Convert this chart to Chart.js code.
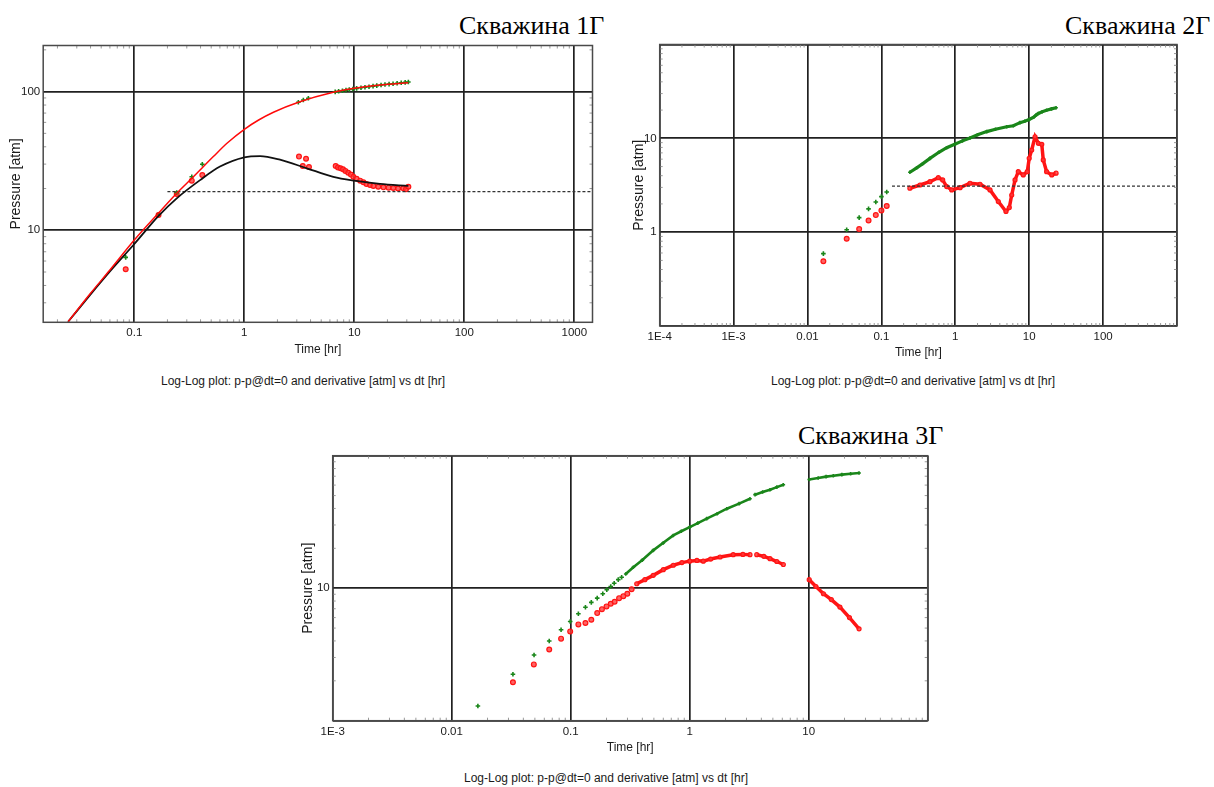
<!DOCTYPE html>
<html>
<head>
<meta charset="utf-8">
<script src="https://cdn.jsdelivr.net/npm/chart.js@4.4.1/dist/chart.umd.min.js"></script>
<style>
  html, body { margin: 0; padding: 0; background: #fff; }
  body { position: relative; width: 1214px; height: 787px; overflow: hidden; font-family: "Liberation Sans", Arial, sans-serif; }
  canvas { position: absolute; }
  .well { position: absolute; font-family: "Liberation Serif", "Times New Roman", serif; font-size: 26px; line-height: 26px; color: #000; white-space: nowrap; }
  .caption { position: absolute; width: 320px; text-align: center; font-size: 12px; line-height: 12px; color: #1a1a1a; white-space: nowrap; }
</style>
</head>
<body>
<div class="well" style="left:459px;top:13px">Скважина 1Г</div>
<div class="well" style="left:1065px;top:13px">Скважина 2Г</div>
<div class="well" style="left:798px;top:423px">Скважина 3Г</div>

<canvas id="well1"></canvas>
<canvas id="well2"></canvas>
<canvas id="well3"></canvas>

<div class="caption" style="left:143px;top:375px">Log-Log plot: p-p@dt=0 and derivative [atm] vs dt [hr]</div>
<div class="caption" style="left:753px;top:375px">Log-Log plot: p-p@dt=0 and derivative [atm] vs dt [hr]</div>
<div class="caption" style="left:446px;top:772px">Log-Log plot: p-p@dt=0 and derivative [atm] vs dt [hr]</div>

<script>
// ---- Скважина 1Г ----
var w1ModelTime = [0.025, 0.04, 0.06, 0.1, 0.166, 0.243, 0.344, 0.523, 0.7, 1.0, 1.35, 1.84, 3.2, 6.44, 10, 17.1, 31];
var w1ModelP = [2.19, 3.51, 5.17, 8.5, 13.3, 18.5, 24.3, 34.0, 42.6, 53.5, 62.4, 71.0, 84.5, 98.9, 105.7, 111.7, 115.9];
var w1ModelDerTime = [0.025, 0.04, 0.06, 0.1, 0.166, 0.243, 0.396, 0.601, 1.0, 1.39, 2.11, 3.69, 6.44, 10, 17.1, 31];
var w1ModelDer = [2.19, 3.45, 5.05, 7.96, 12.7, 17.0, 23.0, 28.8, 33.6, 34.3, 32.3, 28.0, 24.3, 22.8, 21.6, 20.9];
var w1PressTime = [0.0835, 0.166, 0.243, 0.333, 0.415, 3.1, 3.44, 3.82, 6.7, 7.2, 7.8, 8.4, 9.0, 9.7, 10.5, 11.5, 12.5, 13.6, 14.8, 16, 17.5, 19, 20.7, 22.5, 24.5, 26.7, 29, 31];
var w1Press = [6.38, 13.0, 18.7, 24.3, 29.9, 83.8, 87.0, 89.5, 99.5, 100.5, 101.5, 102.5, 103.5, 104.5, 105.5, 106.5, 107.5, 108.5, 109.5, 110.5, 111.5, 112.5, 113.3, 114, 115, 115.8, 116.6, 117.3];
var w1DerTime = [0.0835, 0.166, 0.243, 0.333, 0.415, 3.14, 3.4, 3.64, 3.87, 6.77, 7.1, 7.5, 7.9, 8.3, 8.8, 9.3, 9.8, 10.5, 11.3, 12.1, 12.9, 13.9, 14.9, 16.5, 18.4, 20.5, 22.6, 25, 27.9, 29.5, 31];
var w1Der = [5.24, 12.9, 18.3, 22.8, 25.0, 34.0, 29.1, 32.8, 28.6, 29.1, 28.4, 28.0, 27.5, 26.8, 26.0, 25.2, 24.3, 23.5, 22.8, 22.2, 21.6, 21.2, 20.9, 20.6, 20.4, 20.3, 20.2, 20.0, 20.1, 19.8, 20.6];
var w1FlatTime = [0.2, 1463];
var w1FlatLevel = 19;

// ---- Скважина 2Г ----
var w2EarlyTime = [0.0164, 0.0339, 0.05, 0.067, 0.084, 0.1, 0.118];
var w2EarlyPress = [0.59, 1.06, 1.43, 1.77, 2.10, 2.39, 2.68];
var w2EarlyDer = [0.49, 0.85, 1.08, 1.33, 1.52, 1.70, 1.90];
var w2PressTime = [0.243, 0.3, 0.36, 0.454, 0.6, 0.764, 1, 1.25, 1.58, 2.0, 2.66, 3.5, 4.96, 6.1, 7.5, 8.7, 10, 11.5, 12.5, 13.3, 15, 17.2, 20, 23.1];
var w2Press = [4.35, 4.85, 5.35, 6.12, 7.1, 7.94, 8.7, 9.4, 10.1, 10.9, 11.8, 12.5, 13.3, 13.6, 14.7, 15.2, 15.9, 16.8, 17.8, 18.4, 19.2, 19.9, 20.6, 21.2];
var w2DerTime = [0.243, 0.333, 0.454, 0.589, 0.675, 0.764, 0.894, 1.16, 1.58, 2.16, 2.95, 3.82, 4.85, 5.38, 5.8, 6.43, 7.12, 8.32, 9.42, 10, 10.8, 12, 13.3, 14.8, 15.5, 17.2, 20.2, 23.1];
var w2Der = [2.94, 3.18, 3.45, 3.81, 3.6, 3.06, 2.82, 2.98, 3.32, 3.24, 2.82, 2.12, 1.66, 1.83, 2.49, 3.6, 4.41, 4.07, 4.41, 6.12, 7.5, 10.4, 8.85, 8.63, 5.88, 4.41, 4.07, 4.25];
var w2FlatTime = [0.139, 1000];
var w2FlatLevel = 3.1;

// ---- Скважина 3Г ----
var w3EarlyPressTime = [0.0166, 0.0327, 0.0492, 0.066, 0.083, 0.099, 0.116, 0.133, 0.149, 0.167, 0.186, 0.201, 0.217, 0.232, 0.251, 0.268];
var w3EarlyPress = [1.29, 2.24, 3.13, 3.99, 4.86, 5.61, 6.41, 7.19, 7.81, 8.41, 9.08, 9.75, 10.3, 10.9, 11.6, 12.1];
var w3EarlyDerTime = [0.0327, 0.049, 0.066, 0.083, 0.099, 0.116, 0.133, 0.149, 0.167, 0.183, 0.2, 0.217, 0.234, 0.255, 0.277, 0.299, 0.325];
var w3EarlyDer = [1.95, 2.66, 3.45, 4.16, 4.72, 5.33, 5.46, 5.78, 6.49, 6.95, 7.29, 7.64, 7.91, 8.41, 8.71, 9.08, 9.84];
// null marks a gap in the recording
var w3PressTime = [0.29, 0.336, 0.4, 0.494, 0.6, 0.728, 0.85, 1, 1.17, 1.39, 1.7, 2.05, 2.6, 3.21, 3.4, 3.54, 4.1, 4.73, 5.4, 6.12, 8, 10.1, 12, 14, 16.1, 19, 22.5, 26.5];
var w3Press = [12.8, 14.4, 16.3, 19.3, 22.0, 25.0, 26.9, 28.9, 31.0, 33.5, 36.5, 39.8, 43.5, 47.3, null, 50.8, 53.2, 55.4, 57.9, 60.4, null, 66.2, 67.8, 69.5, 70.6, 72.0, 73.1, 74.0];
var w3DerTime = [0.359, 0.42, 0.494, 0.6, 0.728, 0.86, 1, 1.15, 1.3, 1.5, 1.8, 2.32, 2.8, 3.21, 3.4, 3.66, 4.2, 4.73, 5.4, 6.12, 8, 10.1, 11.5, 13.3, 15.5, 18.3, 22, 26.5];
var w3Der = [10.8, 11.6, 12.5, 13.8, 14.9, 15.6, 16.0, 16.2, 16.0, 16.6, 17.2, 17.9, 18.0, 17.9, null, 17.9, 17.4, 16.7, 15.9, 15.1, null, 11.6, 10.3, 9.08, 8.2, 7.2, 6.0, 4.94];

var GREEN = '#1a861a';
var RED = '#ff1414';

function pts(ts, vs) {
    return ts.map(function (t, i) { return { x: t, y: vs[i] }; });
}
function flat(ts, level) {
    return ts.map(function (t) { return { x: t, y: level }; });
}
function isDecade(v) {
    var e = Math.round(Math.log10(v));
    return Math.abs(v / Math.pow(10, e) - 1) < 1e-6;
}
function fmt(v) {
    var e = Math.round(Math.log10(v));
    if (e < -2) return '1E' + e;
    return e < 0 ? Math.pow(10, e).toFixed(-e) : String(Math.pow(10, e));
}
function minorValues(scale) {
    var out = [];
    for (var e = Math.floor(Math.log10(scale.min)); e <= Math.ceil(Math.log10(scale.max)); e++) {
        for (var k = 2; k < 10; k++) {
            var v = k * Math.pow(10, e);
            if (v > scale.min && v < scale.max) out.push(v);
        }
    }
    return out;
}

// frame round the plot plus the small inward minor ticks
var framePlugin = {
    id: 'frame',
    afterDatasetsDraw: function (chart) {
        var a = chart.chartArea, ctx = chart.ctx, sx = chart.scales.x, sy = chart.scales.y;
        ctx.save();
        ctx.strokeStyle = '#9a9a9a';
        ctx.lineWidth = 1;
        ctx.beginPath();
        minorValues(sx).forEach(function (v) {
            var px = sx.getPixelForValue(v);
            ctx.moveTo(px, a.top); ctx.lineTo(px, a.top + 3);
            ctx.moveTo(px, a.bottom); ctx.lineTo(px, a.bottom - 3);
        });
        minorValues(sy).forEach(function (v) {
            var py = sy.getPixelForValue(v);
            ctx.moveTo(a.left, py); ctx.lineTo(a.left + 3, py);
            ctx.moveTo(a.right, py); ctx.lineTo(a.right - 3, py);
        });
        ctx.stroke();
        ctx.strokeStyle = '#4a4a4a';
        ctx.lineWidth = 1.5;
        ctx.strokeRect(a.left, a.top, a.right - a.left, a.bottom - a.top);
        ctx.restore();
    }
};

function gridColor(c) { return c.tick && isDecade(c.tick.value) ? '#202020' : 'rgba(0,0,0,0)'; }

function makeChart(id, rect, xr, yr, titlePad, datasets) {
    var cv = document.getElementById(id);
    var left = Math.floor(rect.l) - 50, top = Math.floor(rect.t) - 10;
    var width = Math.ceil(rect.r) + 12 - left, height = Math.ceil(rect.b) + 46 - top;
    cv.width = width; cv.height = height;
    cv.style.left = left + 'px'; cv.style.top = top + 'px';
    cv.style.width = width + 'px'; cv.style.height = height + 'px';

    return new Chart(cv, {
        type: 'scatter',
        data: { datasets: datasets },
        plugins: [framePlugin],
        options: {
            responsive: false,
            animation: false,
            devicePixelRatio: 1,
            layout: {
                padding: {
                    left: rect.l - 50 - left,
                    top: rect.t - top,
                    right: left + width - rect.r,
                    bottom: top + height - rect.b - 45
                }
            },
            plugins: { legend: { display: false }, tooltip: { enabled: false } },
            elements: { line: { fill: false } },
            scales: {
                x: {
                    type: 'logarithmic', min: xr[0], max: xr[1],
                    afterFit: function (s) { s.height = 45; },
                    grid: { drawTicks: false, color: gridColor, lineWidth: 1.7 },
                    border: { display: false },
                    ticks: {
                        autoSkip: false, maxRotation: 0, minRotation: 0, padding: 4, color: '#1a1a1a',
                        font: { family: '"Liberation Sans", Arial, sans-serif', size: 11.5 },
                        callback: function (v) {
                            return isDecade(v) && v < this.max * 0.999 ? fmt(v) : '';
                        }
                    },
                    title: {
                        display: true, text: 'Time [hr]', color: '#1a1a1a',
                        font: { family: '"Liberation Sans", Arial, sans-serif', size: 12 },
                        padding: { top: 0, bottom: 10.8 }
                    }
                },
                y: {
                    type: 'logarithmic', min: yr[0], max: yr[1],
                    afterFit: function (s) { s.width = 50; },
                    grid: { drawTicks: false, color: gridColor, lineWidth: 1.7 },
                    border: { display: false },
                    ticks: {
                        autoSkip: false, padding: 3, color: '#1a1a1a',
                        font: { family: '"Liberation Sans", Arial, sans-serif', size: 11.5 },
                        callback: function (v) {
                            return isDecade(v) && v > this.min * 1.001 && v < this.max * 0.999 ? fmt(v) : '';
                        }
                    },
                    title: {
                        display: true, text: 'Pressure [atm]', color: '#1a1a1a',
                        font: { family: '"Liberation Sans", Arial, sans-serif', size: 14 },
                        padding: { top: titlePad, bottom: 0 }
                    }
                }
            }
        }
    });
}

function modelLine(data, color, width) {
    return { data: data, showLine: true, borderColor: color, borderWidth: width, pointRadius: 0, cubicInterpolationMode: 'monotone' };
}
function flatLine(data) {
    return { data: data, showLine: true, borderColor: '#333', borderWidth: 1.2, borderDash: [3, 2], pointRadius: 0 };
}
function pressDots(data, band) {
    return {
        data: data, showLine: !!band, borderColor: GREEN, borderWidth: band || 0, spanGaps: false,
        pointStyle: 'cross', pointRadius: band ? 1.8 : 2.3, pointBorderWidth: 1.6,
        pointBorderColor: GREEN, pointBackgroundColor: GREEN
    };
}
function derDots(data, band) {
    return {
        data: data, showLine: !!band, borderColor: RED, borderWidth: band || 0, spanGaps: false,
        pointStyle: 'circle', pointRadius: band ? 2 : 2.4, pointBorderWidth: 1.2, pointBorderColor: RED,
        pointBackgroundColor: 'rgba(255,60,60,0.8)'
    };
}

makeChart('well1', { l: 43.2, t: 45.5, r: 592.5, b: 322.3 }, [0.01485, 1463], [2.17, 215], 14.3, [
    modelLine(pts(w1ModelTime, w1ModelP), '#ff0a0a', 1.5),
    modelLine(pts(w1ModelDerTime, w1ModelDer), '#111', 1.8),
    flatLine(flat(w1FlatTime, w1FlatLevel)),
    pressDots(pts(w1PressTime, w1Press)),
    derDots(pts(w1DerTime, w1Der))
]);

makeChart('well2', { l: 659.7, t: 44.5, r: 1177, b: 326 }, [1e-4, 1000], [0.1, 100], 20.6, [
    flatLine(flat(w2FlatTime, w2FlatLevel)),
    pressDots(pts(w2EarlyTime, w2EarlyPress)),
    pressDots(pts(w2PressTime, w2Press), 3.2),
    derDots(pts(w2EarlyTime, w2EarlyDer)),
    derDots(pts(w2DerTime, w2Der), 3.5)
]);

makeChart('well3', { l: 332.7, t: 455.7, r: 927.7, b: 720.7 }, [1e-3, 100], [1, 100], 17.4, [
    pressDots(pts(w3EarlyPressTime, w3EarlyPress)),
    pressDots(pts(w3PressTime, w3Press), 2.6),
    derDots(pts(w3EarlyDerTime, w3EarlyDer)),
    derDots(pts(w3DerTime, w3Der), 3.5)
]);
</script>
</body>
</html>
